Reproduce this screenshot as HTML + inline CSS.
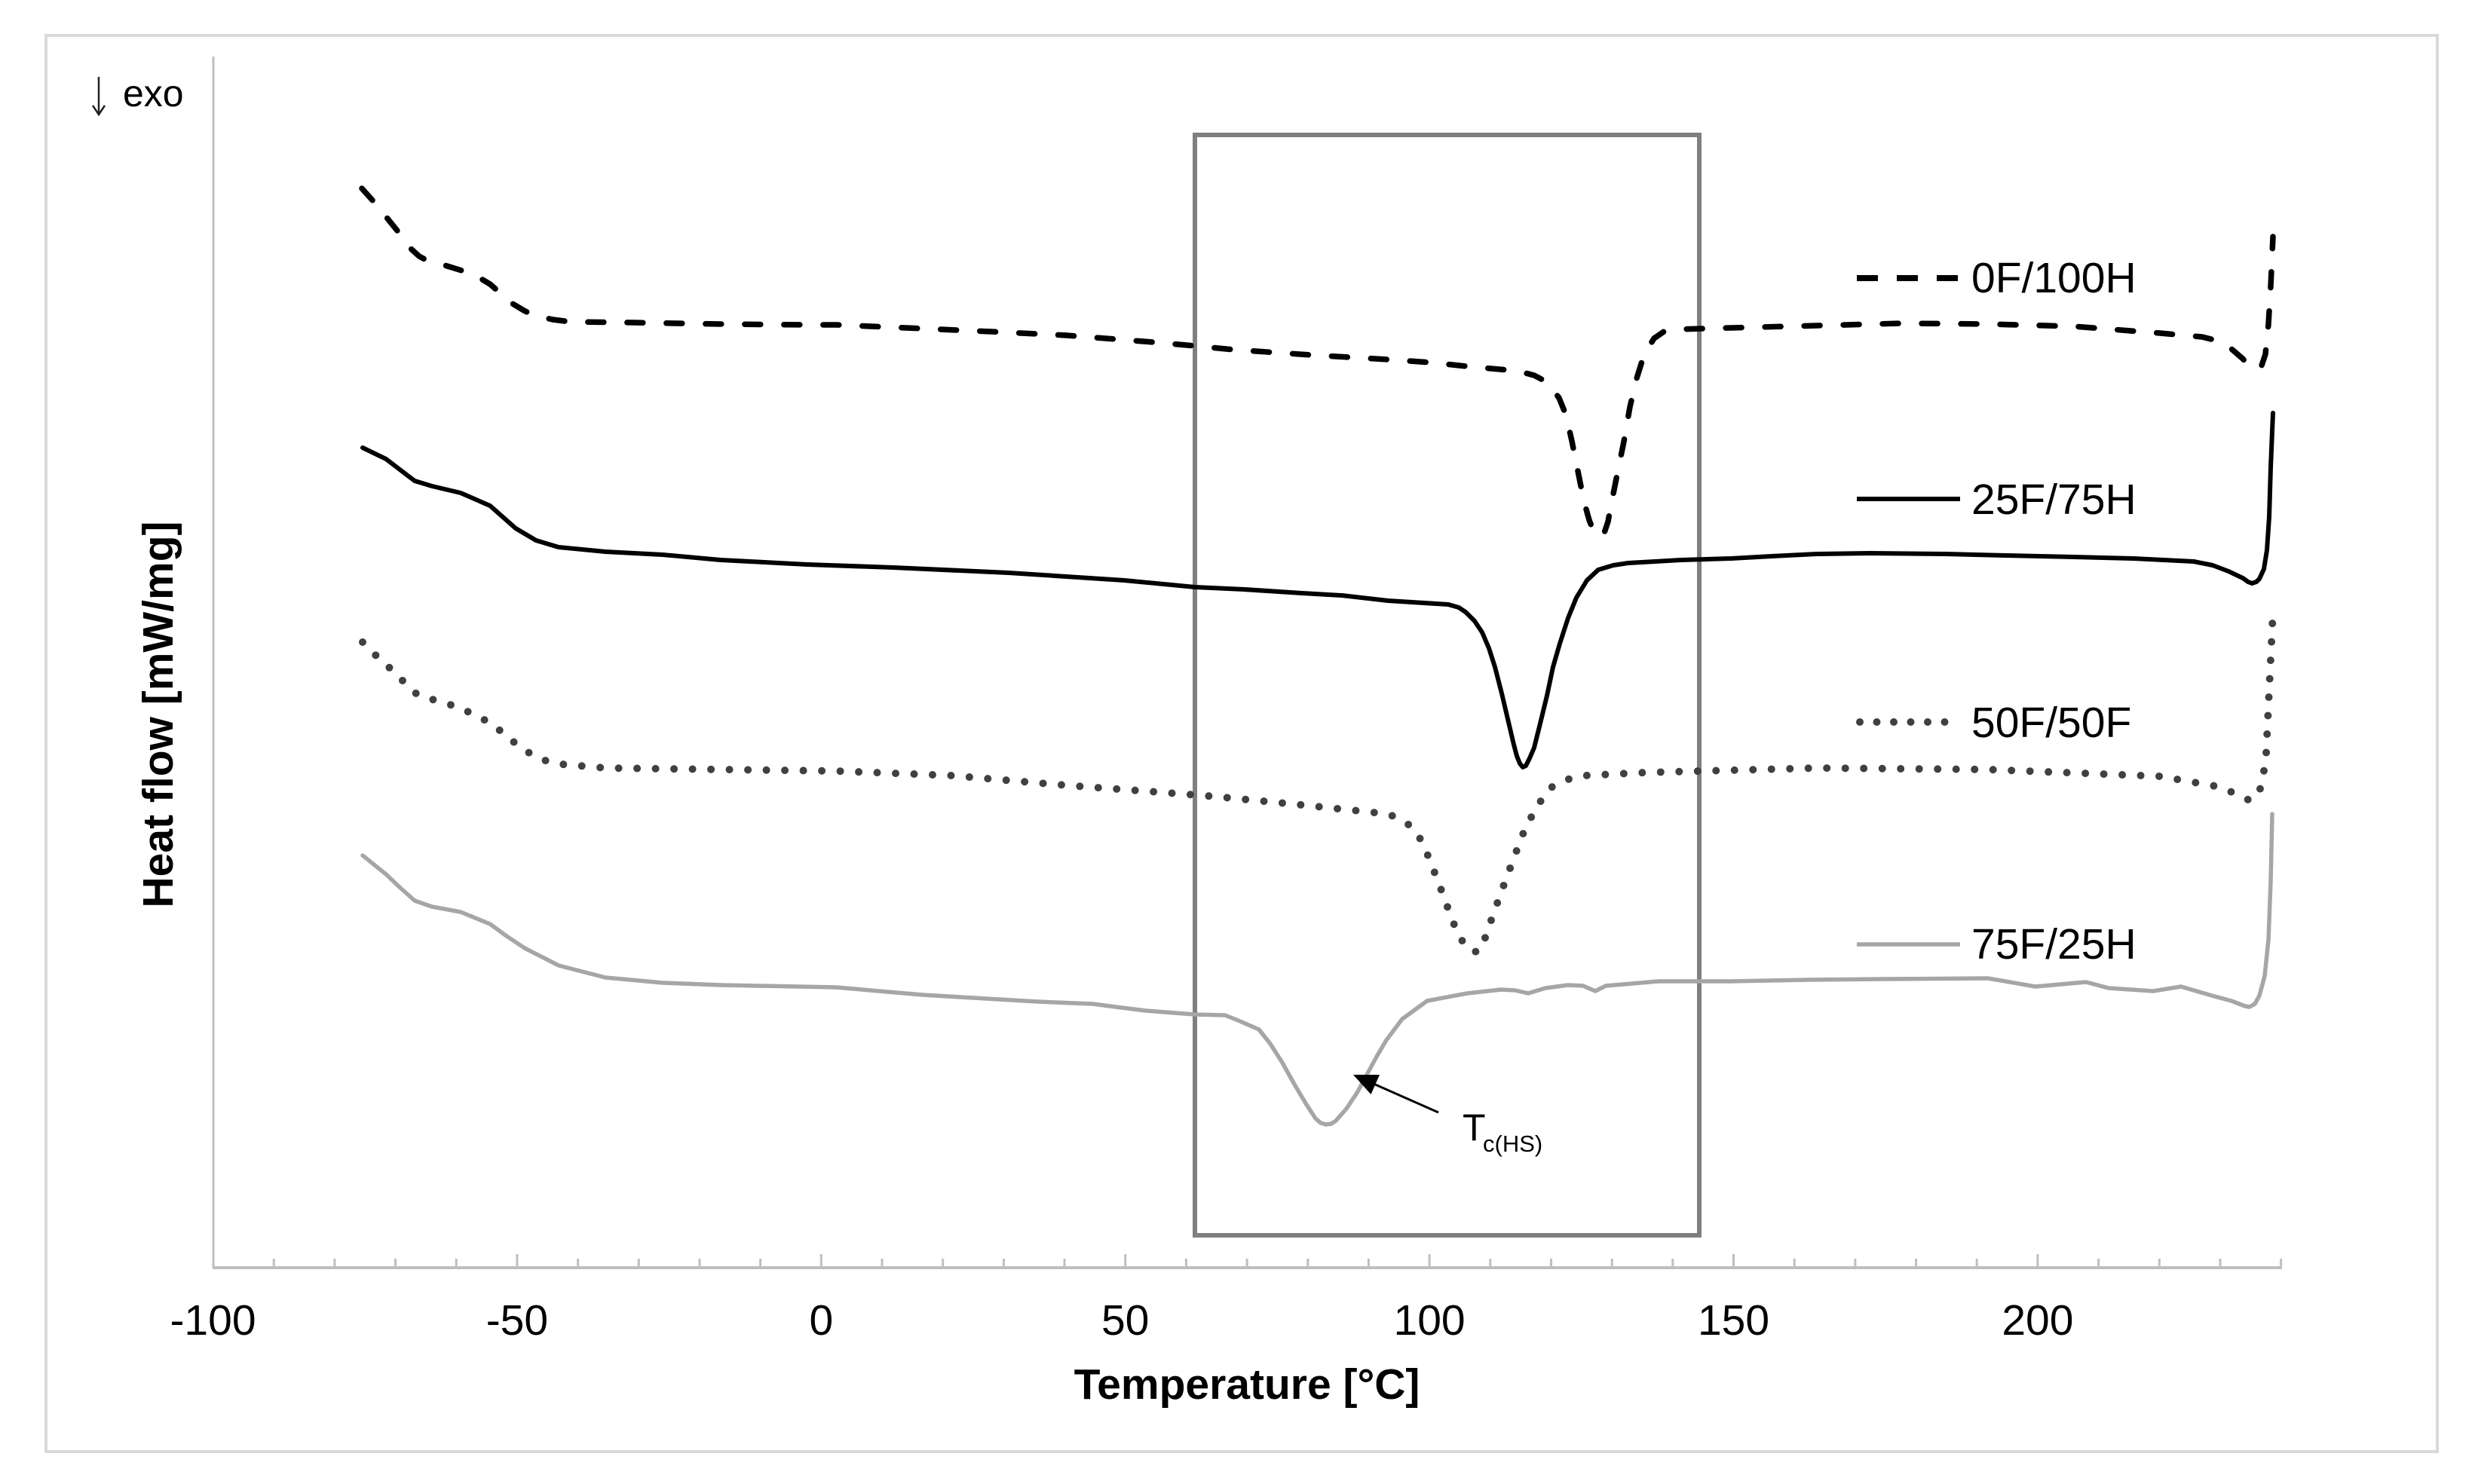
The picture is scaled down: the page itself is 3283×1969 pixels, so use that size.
<!DOCTYPE html>
<html>
<head>
<meta charset="utf-8">
<style>
html,body{margin:0;padding:0;background:#fff;}
svg{display:block;}
text{font-family:"Liberation Sans",Arial,sans-serif;fill:#000;}
</style>
</head>
<body>
<svg width="3283" height="1969" viewBox="0 0 3283 1969" xmlns="http://www.w3.org/2000/svg">
<rect x="0" y="0" width="3283" height="1969" fill="#fff"/>
<!-- outer frame -->
<rect x="61" y="47" width="3172" height="1879" fill="none" stroke="#d9d9d9" stroke-width="4"/>

<!-- axes -->
<line x1="283" y1="75" x2="283" y2="1682" stroke="#bfbfbf" stroke-width="3"/>
<line x1="282" y1="1682" x2="3027" y2="1682" stroke="#bfbfbf" stroke-width="4"/>
<g stroke="#bfbfbf" stroke-width="3">
<line x1="363.2" y1="1682" x2="363.2" y2="1670"/>
<line x1="443.9" y1="1682" x2="443.9" y2="1670"/>
<line x1="524.5" y1="1682" x2="524.5" y2="1670"/>
<line x1="605.2" y1="1682" x2="605.2" y2="1670"/>
<line x1="685.9" y1="1682" x2="685.9" y2="1664"/>
<line x1="766.6" y1="1682" x2="766.6" y2="1670"/>
<line x1="847.3" y1="1682" x2="847.3" y2="1670"/>
<line x1="928.0" y1="1682" x2="928.0" y2="1670"/>
<line x1="1008.6" y1="1682" x2="1008.6" y2="1670"/>
<line x1="1089.3" y1="1682" x2="1089.3" y2="1664"/>
<line x1="1170.0" y1="1682" x2="1170.0" y2="1670"/>
<line x1="1250.7" y1="1682" x2="1250.7" y2="1670"/>
<line x1="1331.4" y1="1682" x2="1331.4" y2="1670"/>
<line x1="1412.0" y1="1682" x2="1412.0" y2="1670"/>
<line x1="1492.7" y1="1682" x2="1492.7" y2="1664"/>
<line x1="1573.4" y1="1682" x2="1573.4" y2="1670"/>
<line x1="1654.1" y1="1682" x2="1654.1" y2="1670"/>
<line x1="1734.8" y1="1682" x2="1734.8" y2="1670"/>
<line x1="1815.4" y1="1682" x2="1815.4" y2="1670"/>
<line x1="1896.1" y1="1682" x2="1896.1" y2="1664"/>
<line x1="1976.8" y1="1682" x2="1976.8" y2="1670"/>
<line x1="2057.5" y1="1682" x2="2057.5" y2="1670"/>
<line x1="2138.2" y1="1682" x2="2138.2" y2="1670"/>
<line x1="2218.8" y1="1682" x2="2218.8" y2="1670"/>
<line x1="2299.5" y1="1682" x2="2299.5" y2="1664"/>
<line x1="2380.2" y1="1682" x2="2380.2" y2="1670"/>
<line x1="2460.9" y1="1682" x2="2460.9" y2="1670"/>
<line x1="2541.6" y1="1682" x2="2541.6" y2="1670"/>
<line x1="2622.2" y1="1682" x2="2622.2" y2="1670"/>
<line x1="2702.9" y1="1682" x2="2702.9" y2="1664"/>
<line x1="2783.6" y1="1682" x2="2783.6" y2="1670"/>
<line x1="2864.3" y1="1682" x2="2864.3" y2="1670"/>
<line x1="2945.0" y1="1682" x2="2945.0" y2="1670"/>
<line x1="3025.6" y1="1682" x2="3025.6" y2="1670"/>
</g>

<!-- tick labels -->
<g font-size="57" text-anchor="middle">
<text x="282.5" y="1771">-100</text>
<text x="685.9" y="1771">-50</text>
<text x="1089.3" y="1771">0</text>
<text x="1492.7" y="1771">50</text>
<text x="1896.1" y="1771">100</text>
<text x="2299.5" y="1771">150</text>
<text x="2702.9" y="1771">200</text>
</g>

<!-- axis titles -->
<text x="1654" y="1856" font-size="57" font-weight="bold" text-anchor="middle">Temperature [°C]</text>
<text transform="translate(229,948) rotate(-90)" x="0" y="0" font-size="57" font-weight="bold" text-anchor="middle">Heat flow [mW/mg]</text>

<!-- exo arrow -->
<line x1="131" y1="102" x2="131" y2="151" stroke="#222" stroke-width="2.5"/>
<polyline points="123,140 131,152 139,140" fill="none" stroke="#222" stroke-width="2.5"/>
<text x="163" y="141" font-size="50" fill="#222">exo</text>

<!-- highlight rectangle -->
<rect x="1585" y="179" width="669" height="1460" fill="none" stroke="#7f7f7f" stroke-width="6"/>

<!-- 0F/100H dashed -->
<polyline fill="none" stroke="#000" stroke-width="7.5" stroke-linecap="round" stroke-linejoin="round" stroke-dasharray="21 31"
points="480,250 497,269 514,290 531,311 545,330 556,340 569,347 590,352 619,361 635,368 650,377 665,390 680,403 695,412 707,418 733,424 757,427 841,428 956,430 1070,431 1109,431 1155,433 1224,436 1315,440 1415,445 1530,454 1585,459 1637,464 1739,471 1841,477 1898,481 1955,487 2012,492 2035,498 2050,506 2057,513 2068,528 2077,550 2085,585 2093,625 2101,665 2108,690 2113,703 2118,710 2123,712 2128,707 2133,692 2137,670 2145,630 2154,586 2162,540 2171,502 2181,470 2194,449 2207,440 2222,437 2296,435 2410,432 2523,429 2637,430 2751,433 2865,442 2921,447 2945,453 2960,463 2975,476 2984,486 2990,490 2996,489 3000,485 3005,470 3009,430 3012,380 3015,314"/>

<!-- 25F/75H solid -->
<polyline fill="none" stroke="#000" stroke-width="6" stroke-linejoin="round" stroke-linecap="round"
points="481,594 512,609 550,638 573,645 611,654 650,671 667,686 684,701 711,717 741,726 803,732 879,736 956,743 1071,749 1185,753 1338,760 1491,770 1585,779 1650,782 1727,787 1780,790 1841,797 1921,802 1935,806 1944,812 1956,824 1966,839 1975,860 1983,885 1992,920 2000,954 2008,988 2012,1003 2016,1013 2020,1018 2024,1016 2029,1006 2035,992 2043,960 2052,923 2060,885 2069,854 2080,820 2091,793 2105,770 2120,756 2140,750 2160,747 2230,743 2296,741 2350,738 2410,735 2480,734 2580,735 2660,737 2751,739 2830,741 2910,745 2935,750 2956,758 2975,767 2982,772 2987,774 2993,772 2997,768 3003,755 3007,730 3010,686 3012,620 3015,548"/>

<!-- 50F/50F dotted -->
<polyline fill="none" stroke="#404040" stroke-width="10" stroke-linecap="round" stroke-linejoin="round" stroke-dasharray="0 24.5"
points="481,852 500,871 520,889 537,906 554,922 580,930 604,937 627,947 650,959 668,973 688,990 710,1004 734,1013 803,1019 956,1021 1109,1023 1262,1029 1415,1042 1537,1051 1614,1057 1727,1068 1841,1080 1860,1088 1875,1099 1887,1118 1898,1145 1910,1176 1921,1206 1932,1235 1944,1256 1952,1262 1961,1263 1968,1250 1978,1221 1989,1190 2000,1160 2012,1128 2023,1099 2040,1068 2057,1045 2080,1034 2103,1029 2182,1025 2410,1019 2637,1021 2865,1030 2944,1044 2965,1053 2984,1062 2995,1055 3001,1038 3006,1000 3010,915 3015,812"/>

<!-- 75F/25H gray -->
<polyline fill="none" stroke="#a6a6a6" stroke-width="5.5" stroke-linejoin="round" stroke-linecap="round"
points="481,1135 512,1160 531,1178 550,1195 573,1203 611,1210 650,1226 672,1242 696,1258 741,1281 803,1297 879,1304 956,1307 1109,1310 1224,1320 1377,1329 1450,1332 1480,1336 1520,1341 1585,1346 1625,1347 1645,1355 1670,1366 1685,1385 1701,1410 1716,1437 1732,1464 1745,1484 1752,1490 1759,1492 1766,1491 1772,1487 1786,1471 1800,1450 1813,1426 1826,1402 1839,1380 1860,1352 1893,1328 1946,1318 1991,1313 2010,1314 2027,1318 2050,1311 2080,1307 2100,1308 2116,1315 2130,1308 2200,1302 2296,1302 2400,1300 2500,1299 2637,1298 2700,1309 2767,1303 2797,1311 2856,1315 2893,1309 2934,1321 2960,1328 2978,1335 2984,1336 2991,1332 2997,1321 3004,1295 3009,1247 3012,1170 3014,1080"/>

<!-- Tc annotation -->
<line x1="1908" y1="1476" x2="1822" y2="1438" stroke="#000" stroke-width="3"/>
<polygon points="1795,1426 1830,1426 1818.5,1452" fill="#000"/>
<text x="1940" y="1513" font-size="50" fill="#111">T</text>
<text x="1967" y="1528" font-size="31" fill="#111">c(HS)</text>

<!-- legend -->
<line x1="2463" y1="369" x2="2600" y2="369" stroke="#000" stroke-width="8" stroke-dasharray="28 25"/>
<line x1="2463" y1="662" x2="2600" y2="662" stroke="#000" stroke-width="6"/>
<line x1="2467" y1="958" x2="2600" y2="958" stroke="#404040" stroke-width="10" stroke-linecap="round" stroke-dasharray="0 22.5"/>
<line x1="2463" y1="1253" x2="2600" y2="1253" stroke="#a6a6a6" stroke-width="5.5"/>
<g font-size="57">
<text x="2615" y="388">0F/100H</text>
<text x="2615" y="682">25F/75H</text>
<text x="2615" y="978">50F/50F</text>
<text x="2615" y="1272">75F/25H</text>
</g>
</svg>
</body>
</html>
